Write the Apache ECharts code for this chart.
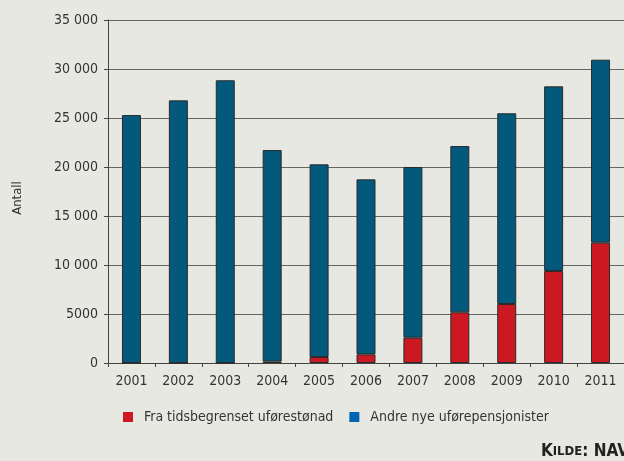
<!DOCTYPE html>
<html>
<head>
<meta charset="utf-8">
<script src="https://cdn.jsdelivr.net/npm/echarts@6/dist/echarts.min.js"></script>
<style>
  html, body { margin: 0; padding: 0; background: #e8e8e3; }
  #chart { width: 624px; height: 461px; }
</style>
</head>
<body>
<div id="chart"></div>
<script>
const years = ['2001', '2002', '2003', '2004', '2005', '2006', '2007', '2008', '2009', '2010', '2011']
// fra tidsbegrenset uførestønad
const fraTidsbegrenset = [0, 0, 0, 150, 610, 880, 2580, 5170, 6020, 9390, 12280]
// andre nye uførepensjonister
const andreNye = [25300, 26800, 28850, 21580, 19660, 17860, 17420, 16970, 19460, 18840, 18670]

const chart = echarts.init(document.getElementById('chart'), null, { renderer: 'canvas' })

const labelFont = 'DejaVu Sans Condensed, DejaVu Sans, sans-serif'
const legendFont = 'Liberation Sans Narrow, DejaVu Sans Condensed, sans-serif'

chart.setOption({
  backgroundColor: '#e8e8e3',
  animation: false,
  grid: {
    left: 108,
    right: 0,
    top: 20,
    bottom: 98
  },
  title: {
    text: '{big|K}{small|ILDE}{big|: NAV}',
    right: -10,
    bottom: -4,
    textStyle: {
      rich: {
        big: { fontSize: 17, color: '#222', fontFamily: legendFont },
        small: { fontSize: 13, color: '#222', fontFamily: legendFont }
      }
    }
  },
  graphic: [
    {
      type: 'text',
      x: 18,
      y: 198,
      rotation: Math.PI / 2,
      style: {
        text: 'Antall',
        fill: '#333',
        font: '13px ' + labelFont,
        align: 'center',
        verticalAlign: 'middle'
      }
    }
  ],
  legend: {
    left: 123,
    top: 410,
    padding: 0,
    itemWidth: 10,
    itemHeight: 10,
    itemGap: 16,
    icon: 'rect',
    textStyle: {
      fontFamily: legendFont,
      fontSize: 14,
      color: '#333',
      padding: [0, 0, 0, 6]
    },
    data: [
      { name: 'Fra tidsbegrenset uførestønad', itemStyle: { color: '#cc1820', borderWidth: 0 } },
      { name: 'Andre nye uførepensjonister', itemStyle: { color: '#0066b3', borderWidth: 0 } }
    ]
  },
  xAxis: {
    type: 'category',
    data: years,
    axisLine: { lineStyle: { color: '#444', width: 1 } },
    axisTick: { show: true, length: 4, lineStyle: { color: '#444' } },
    axisLabel: {
      color: '#333',
      fontFamily: labelFont,
      fontSize: 14,
      margin: 11
    }
  },
  yAxis: {
    type: 'value',
    min: 0,
    max: 35000,
    interval: 5000,
    axisLine: { show: true, lineStyle: { color: '#444', width: 1 } },
    axisTick: { show: true, length: 4, lineStyle: { color: '#444' } },
    axisLabel: {
      color: '#333',
      fontFamily: labelFont,
      fontSize: 14,
      margin: 10,
      formatter: function (v) {
        if (v < 10000) return String(v)
        return String(v).replace(/\B(?=(\d{3})+(?!\d))/g, ' ')
      }
    },
    splitLine: { lineStyle: { color: '#666', width: 1 } }
  },
  series: [
    {
      name: 'Fra tidsbegrenset uførestønad',
      type: 'bar',
      stack: 'total',
      barWidth: 19,
      data: fraTidsbegrenset,
      itemStyle: { color: '#cc1820', borderColor: '#2a2a2a', borderWidth: 1 }
    },
    {
      name: 'Andre nye uførepensjonister',
      type: 'bar',
      stack: 'total',
      barWidth: 19,
      data: andreNye,
      itemStyle: { color: '#02597c', borderColor: '#2a2a2a', borderWidth: 1 }
    }
  ]
})
</script>
</body>
</html>
